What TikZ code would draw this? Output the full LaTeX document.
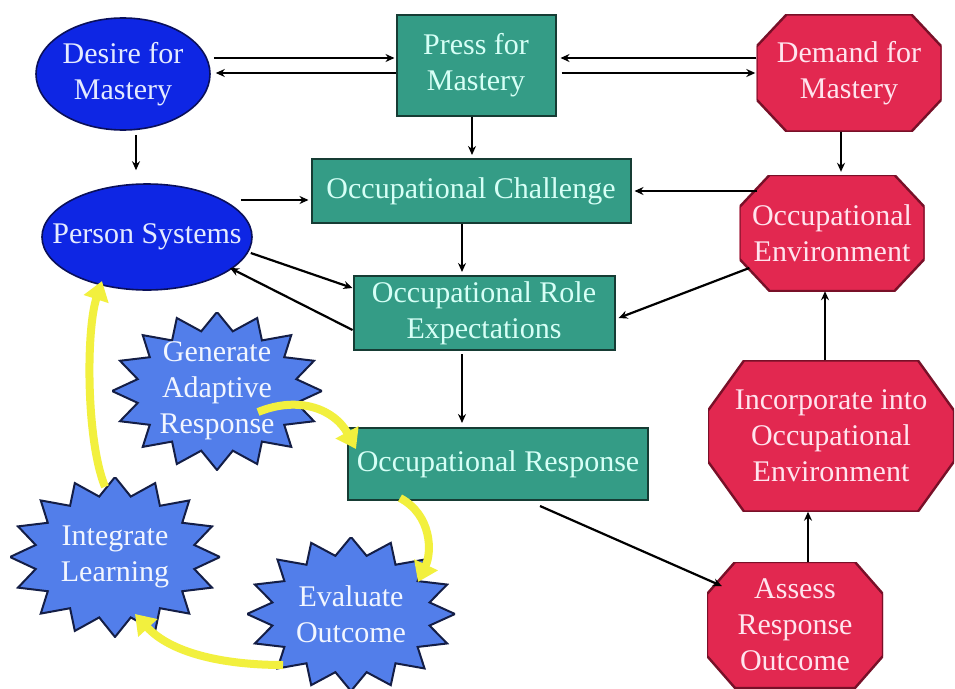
\documentclass[tikz,border=0pt]{standalone}
\usepackage{fontspec}
\setmainfont{Liberation Serif}
\usetikzlibrary{shapes.geometric,arrows.meta}

\definecolor{ellfill}{RGB}{14,38,228}
\definecolor{elledge}{RGB}{10,16,90}
\definecolor{elltext}{RGB}{228,234,255}
\definecolor{boxfill}{RGB}{52,156,134}
\definecolor{boxedge}{RGB}{22,60,52}
\definecolor{boxtext}{RGB}{214,255,246}
\definecolor{octfill}{RGB}{226,40,80}
\definecolor{octedge}{RGB}{120,16,40}
\definecolor{octtext}{RGB}{255,228,238}
\definecolor{burstfill}{RGB}{82,126,234}
\definecolor{burstedge}{RGB}{20,30,70}
\definecolor{bursttext}{RGB}{242,246,255}
\definecolor{loopyellow}{RGB}{242,240,62}

\tikzset{
  labeltext/.style={font=\fontsize{30}{36}\selectfont, align=center},
  link/.style={draw=black, line width=2.2pt, -{Stealth[length=9pt,width=8pt]}},
  loop/.style={draw=loopyellow, line width=8pt, -{Triangle[length=19pt,width=25pt]}},
  ellnode/.style={ellipse, labeltext, draw=elledge, line width=1.6pt, fill=ellfill, text=elltext, inner sep=0pt},
  boxnode/.style={rectangle, labeltext, draw=boxedge, line width=2pt, fill=boxfill, text=boxtext, inner sep=0pt},
  % octagon inscribed in the node rectangle: width, height, x chamfer, y chamfer
  octnode/.style n args={4}{rectangle, labeltext, text=octtext, inner sep=0pt,
    minimum width=#1, minimum height=#2,
    path picture={
      \filldraw[fill=octfill, draw=octedge, line width=2.4pt]
        ([xshift=#3]path picture bounding box.north west)
        -- ([xshift=-#3]path picture bounding box.north east)
        -- ([yshift=-#4]path picture bounding box.north east)
        -- ([yshift=#4]path picture bounding box.south east)
        -- ([xshift=-#3]path picture bounding box.south east)
        -- ([xshift=#3]path picture bounding box.south west)
        -- ([yshift=#4]path picture bounding box.south west)
        -- ([yshift=-#4]path picture bounding box.north west)
        -- cycle;
    }},
  % sixteen-point burst inscribed in the node rectangle: x radius, y radius
  burst/.style 2 args={rectangle, labeltext, text=bursttext, inner sep=0pt,
    minimum width=2*#1, minimum height=2*#2,
    path picture={
      \filldraw[fill=burstfill, draw=burstedge, line width=2pt]
        ([shift={(0:#1 and #2)}]path picture bounding box.center)
        \foreach \k in {0,...,15}{
          -- ([shift={(\k*22.5+11.25:0.77*#1 and 0.77*#2)}]path picture bounding box.center)
          -- ([shift={(\k*22.5+22.5:#1 and #2)}]path picture bounding box.center)
        } -- cycle;
    }}
}

\begin{document}
\begin{tikzpicture}[x=1pt,y=-1pt]
  \fill[white] (0,0) rectangle (955,688);
  \useasboundingbox (0,0) rectangle (955,688);

  % person side
  \node[ellnode, minimum width=174, minimum height=112] (desire) at (123,74) {Desire for\\Mastery};
  \node[ellnode, minimum width=210, minimum height=106, inner xsep=-24pt] (person) at (147,237) {Person Systems};

  % occupational chain
  \node[boxnode, minimum width=159, minimum height=101] (press) at (476,65) {Press for\\Mastery};
  \node[boxnode, minimum width=319, minimum height=64] (chall) at (471,191) {Occupational Challenge};
  \node[boxnode, minimum width=261, minimum height=74] (role) at (484,313) {Occupational Role\\Expectations};
  \node[boxnode, minimum width=300, minimum height=72] (resp) at (498,464) {Occupational Response};

  % environment side
  \node[octnode={185}{117}{30}{32}] (demand) at (849,73) {Demand for\\Mastery};
  \node[octnode={185}{116}{30}{32}] (env) at (832,233) {Occupational\\Environment};
  \node[octnode={246}{151}{36}{50}] (incorp) at (831,436) {Incorporate into\\Occupational\\Environment};
  \node[octnode={176}{126}{28}{32}] (assess) at (795,625) {Assess\\Response\\Outcome};

  % adaptation cycle
  \node[burst={105}{79}] (gen) at (217,391) {Generate\\Adaptive\\Response};
  \node[burst={105}{80}] (integ) at (115,557) {Integrate\\Learning};
  \node[burst={104}{77}] (eval) at (351,614) {Evaluate\\Outcome};

  % connectors between the top row
  \draw[link] ([shift={(3,-16)}]desire.east) -- ([shift={(-1,-7)}]press.west);
  \draw[link] ([shift={(0,8)}]press.west) -- ([shift={(5,-1)}]desire.east);
  \draw[link] ([shift={(0,-15)}]demand.west) -- ([shift={(4,-7)}]press.east);
  \draw[link] ([shift={(5,8)}]press.east) -- ([shift={(-1,0)}]demand.west);

  % downward flow
  \draw[link] ([shift={(13,4)}]desire.south) -- ([shift={(-11,-13)}]person.north);
  \draw[link] ([shift={(-4,0)}]press.south) -- ([shift={(1,-3)}]chall.north);
  \draw[link] ([shift={(-12,-37)}]person.east) -- ([shift={(-2,9)}]chall.west);
  \draw[link] ([shift={(-9,0)}]chall.south) -- ([shift={(-22,-3)}]role.north);
  \draw[link] ([shift={(-2,16)}]person.east) -- ([shift={(0,-25)}]role.west);
  \draw[link] ([shift={(0,17)}]role.west) -- ([shift={(83,31)}]person.center);
  \draw[link] ([shift={(18,-42)}]env.west) -- ([shift={(3,0)}]chall.east);
  \draw[link] ([shift={(10,35)}]env.west) -- ([shift={(3,5)}]role.east);
  \draw[link] ([shift={(-8,0)}]demand.south) -- ([shift={(9,-3)}]env.north);
  \draw[link] ([shift={(-22,3)}]role.south) -- ([shift={(-36,-4)}]resp.north);
  \draw[link] ([shift={(42,5)}]resp.south) -- ([shift={(15,-39)}]assess.west);
  \draw[link] ([shift={(13,0)}]assess.north) -- ([shift={(-23,0)}]incorp.south);
  \draw[link] ([shift={(-6,0)}]incorp.north) -- ([shift={(-7,0)}]env.south);

  % yellow adaptation loop
  \draw[loop] ([shift={(-10,10)}]integ.north) .. controls (86,440) and (86,330) .. ([shift={(-45,44)}]person.center);
  \draw[loop] ([shift={(41,21)}]gen.center) .. controls (300,395) and (335,410) .. ([shift={(9,22)}]resp.north west);
  \draw[loop] ([shift={(-98,-3)}]resp.south) .. controls (432,515) and (432,552) .. ([shift={(67,-32)}]eval.center);
  \draw[loop] ([shift={(-68,51)}]eval.center) .. controls (220,665) and (170,652) .. ([shift={(20,57)}]integ.center);
\end{tikzpicture}
\end{document}
